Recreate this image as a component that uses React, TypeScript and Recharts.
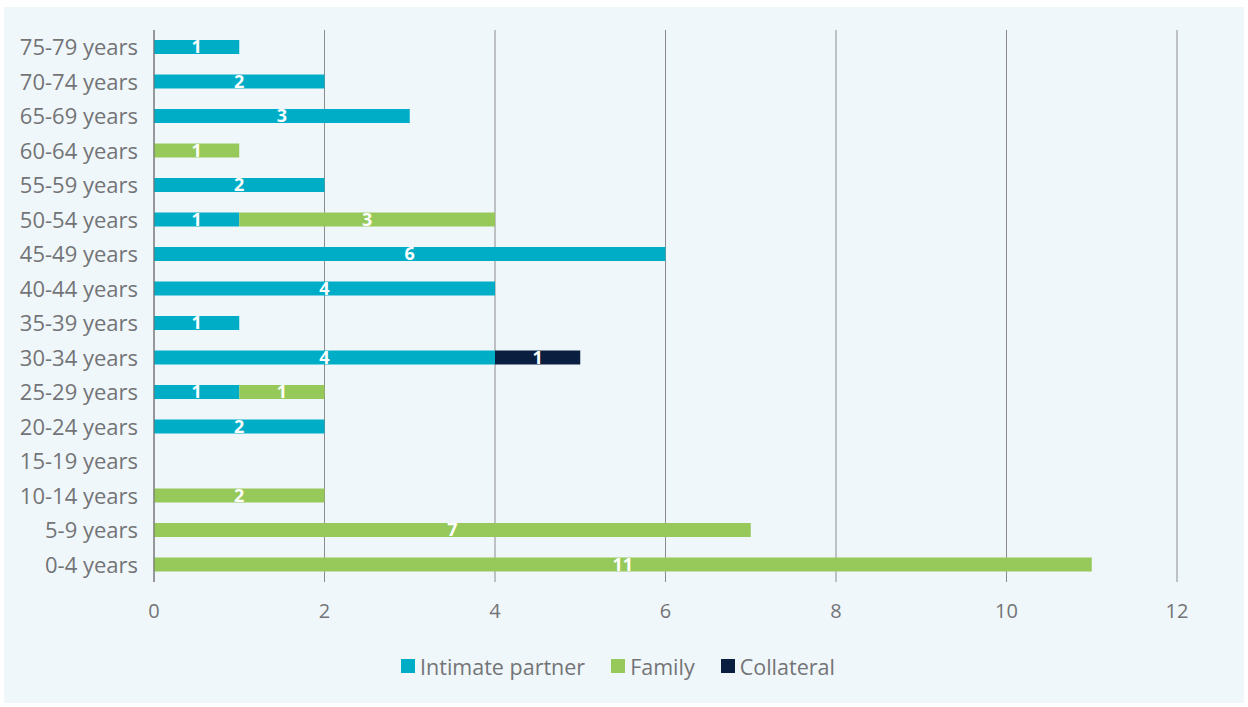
import React from 'react';
import { BarChart, Bar, XAxis, YAxis, CartesianGrid, Legend, LabelList } from 'recharts';

// age groups, listed top to bottom as in the report
const ageGroups = [
  '75-79 years', '70-74 years', '65-69 years', '60-64 years',
  '55-59 years', '50-54 years', '45-49 years', '40-44 years',
  '35-39 years', '30-34 years', '25-29 years', '20-24 years',
  '15-19 years', '10-14 years', '5-9 years', '0-4 years',
];

const intimatePartner = [1, 2, 3, 0, 2, 1, 6, 4, 1, 4, 1, 2, 0, 0, 0, 0];
const family = [0, 0, 0, 1, 0, 3, 0, 0, 0, 0, 1, 0, 0, 2, 7, 11];
const collateral = [0, 0, 0, 0, 0, 0, 0, 0, 0, 1, 0, 0, 0, 0, 0, 0];

const xTicks = [0, 2, 4, 6, 8, 10, 12];

const series = [
  { key: 'intimate', name: 'Intimate partner', color: '#00adc7' },
  { key: 'family', name: 'Family', color: '#96c95a' },
  { key: 'collateral', name: 'Collateral', color: '#0a1f3f' },
];

const FONT = '"Open Sans", sans-serif';
const TEXT = '#737477';

const data = ageGroups.map((age, i) => ({
  age,
  intimate: intimatePartner[i] || null,
  family: family[i] || null,
  collateral: collateral[i] || null,
}));

const renderLegend = () => (
  <div
    style={{
      display: 'flex',
      justifyContent: 'center',
      alignItems: 'center',
      height: 30,
      fontFamily: FONT,
      fontSize: 21.5,
      color: TEXT,
      gap: 26,
      paddingRight: 12,
    }}
  >
    {series.map((s) => (
      <div key={s.key} style={{ display: 'flex', alignItems: 'center', gap: 5 }}>
        <span style={{ width: 14, height: 14, background: s.color, display: 'inline-block' }} />
        <span>{s.name}</span>
      </div>
    ))}
  </div>
);

export default function App() {
  return (
    <div
      style={{
        position: 'absolute',
        left: 4,
        top: 7,
        width: 1240,
        height: 696,
        background: '#f0f7fa',
      }}
    >
      <BarChart
        width={1240}
        height={696}
        data={data}
        layout="vertical"
        margin={{ top: 23, right: 67, left: 0, bottom: 51 }}
        barSize={14}
      >
        <CartesianGrid horizontal={false} stroke="#8c8c8c" strokeWidth={1} />
        <XAxis
          type="number"
          domain={[0, 12]}
          ticks={xTicks}
          axisLine={false}
          tickLine={false}
          tickMargin={16}
          height={40}
          tick={{ fontSize: 20, fill: TEXT, fontFamily: FONT }}
        />
        <YAxis
          type="category"
          dataKey="age"
          width={150}
          axisLine={{ stroke: '#6f6f6f' }}
          tickLine={false}
          tickMargin={10}
          interval={0}
          tick={{ fontSize: 22, fill: TEXT, fontFamily: FONT }}
        />
        <Legend
          verticalAlign="bottom"
          content={renderLegend}
          wrapperStyle={{ top: 644, bottom: 'auto', left: 0, width: 1240 }}
        />
        {series.map((s) => (
          <Bar key={s.key} dataKey={s.key} name={s.name} stackId="a" fill={s.color} isAnimationActive={false}>
            <LabelList
              dataKey={s.key}
              position="center"
              fill="#ffffff"
              style={{ fontSize: 18, fontWeight: 700, fontFamily: FONT }}
            />
          </Bar>
        ))}
      </BarChart>
    </div>
  );
}
